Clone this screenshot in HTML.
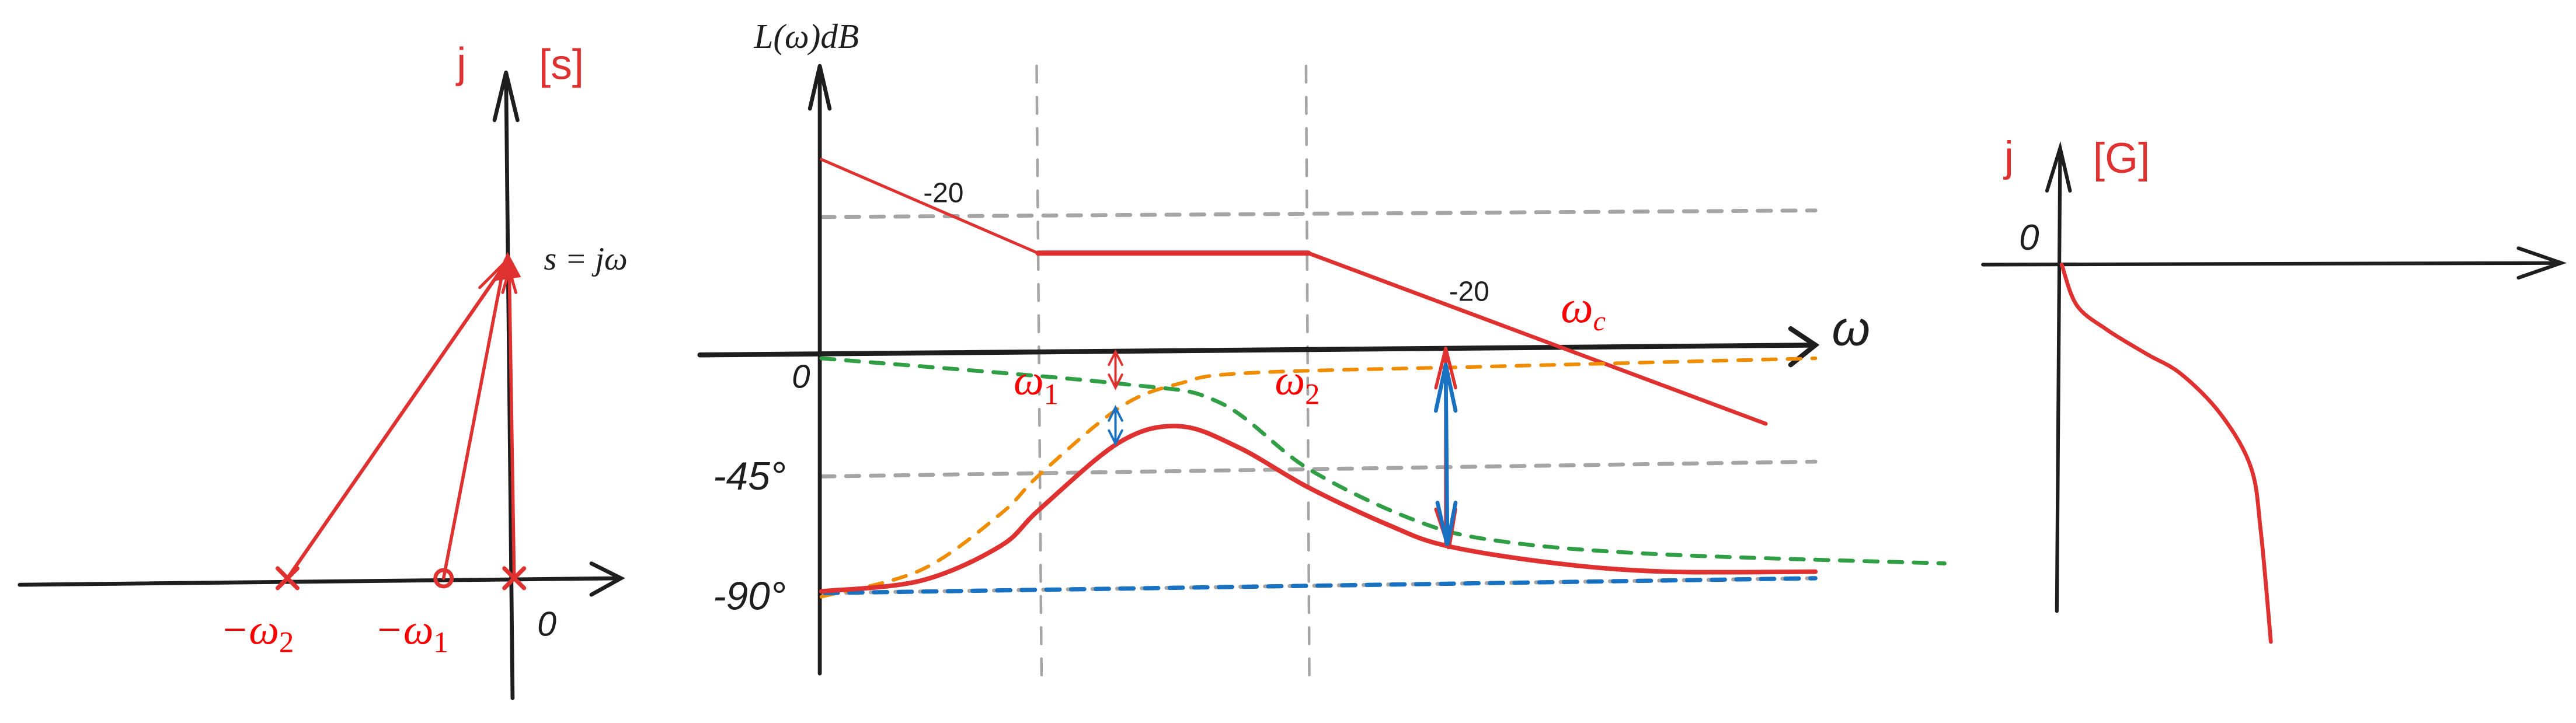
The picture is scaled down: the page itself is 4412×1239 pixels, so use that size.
<!DOCTYPE html>
<html><head><meta charset="utf-8"><style>
html,body{margin:0;padding:0;background:#fff}
svg{display:block}
.hand{font-family:"Liberation Sans",sans-serif}
.math{font-family:"Liberation Serif",serif;font-style:italic}
</style></head><body>
<svg id="fig" width="4412" height="1239" viewBox="0 0 1568 440" xmlns="http://www.w3.org/2000/svg">
<g stroke-linecap="round" fill="none">
 <path d="M12 356 L378 352 M360 343 L378 352 L360 362" stroke="#1e1e1e" stroke-width="2.4"/>
 <path d="M312 425 L308 44 M301 73 L308 44 L315 73" stroke="#1e1e1e" stroke-width="2.4"/>
 <path d="M175 352 L308 160" stroke="#e03131" stroke-width="2.2"/>
 <path d="M270 352 L306 165" stroke="#e03131" stroke-width="2"/>
 <path d="M313 352 L310 165" stroke="#e03131" stroke-width="2"/>
 <path d="M292 175 L309 158 M306 178 L310 164 L314 178" stroke="#e03131" stroke-width="1.8"/>
 <path d="M309 155 L302 170 L316 168 Z" fill="#e03131" stroke="#e03131" stroke-width="1.5"/>
 <path d="M169 346 L181 358 M181 346 L169 358" stroke="#e03131" stroke-width="2.6"/>
 <path d="M307 346 L319 358 M319 346 L307 358" stroke="#e03131" stroke-width="2.6"/>
 <circle cx="270" cy="352" r="5" stroke="#e03131" stroke-width="2.4"/>
</g>
<text class="hand" x="278" y="47" font-size="26" fill="#e03131">j</text>
<text class="hand" x="328" y="48" font-size="26" fill="#e03131">[s]</text>
<text class="math" x="331" y="164" font-size="20" fill="#1e1e1e">s = jω</text>
<text class="math" x="134" y="392" font-size="26" fill="#ff0000">−ω<tspan font-size="18" dy="5" font-style="normal">2</tspan></text>
<text class="math" x="228" y="392" font-size="26" fill="#ff0000">−ω<tspan font-size="18" dy="5" font-style="normal">1</tspan></text>
<text class="hand" x="327" y="387" font-size="21" fill="#1e1e1e" font-style="italic">0</text>

<g id="bode" fill="none" stroke-linecap="round"></g>
<text class="math" x="459" y="29" font-size="21" fill="#1e1e1e">L(ω)dB</text>
<text class="hand" x="1115" y="210" font-size="30" fill="#1e1e1e" font-style="italic">ω</text>
<text class="hand" x="562" y="123" font-size="17" fill="#1e1e1e">-20</text>
<text class="hand" x="882" y="183" font-size="17" fill="#1e1e1e">-20</text>
<text class="math" x="950" y="196" font-size="28" fill="#ff0000">ω<tspan font-size="17" dy="5">c</tspan></text>
<text class="hand" x="482" y="236" font-size="20" fill="#1e1e1e" font-style="italic">0</text>
<text class="math" x="617" y="240" font-size="26" fill="#ff0000">ω<tspan font-size="18" dy="6" font-style="normal">1</tspan></text>
<text class="math" x="776" y="240" font-size="26" fill="#ff0000">ω<tspan font-size="18" dy="6" font-style="normal">2</tspan></text>
<text class="hand" x="434" y="298" font-size="24" fill="#1e1e1e" font-style="italic">-45°</text>
<text class="hand" x="434" y="371" font-size="24" fill="#1e1e1e" font-style="italic">-90°</text>

<g fill="none" stroke-linecap="round">
 <path d="M1207 161 L1559 160 M1533 151 L1559 160 L1533 169" stroke="#1e1e1e" stroke-width="2.2"/>
 <path d="M1252 372 L1254 90 M1246 116 L1254 90 L1260 116" stroke="#1e1e1e" stroke-width="2.2"/>
 <path id="nyq" stroke="#e03131" stroke-width="2.4"/>
</g>
<text class="hand" x="1220" y="104" font-size="26" fill="#e03131">j</text>
<text class="hand" x="1274" y="105" font-size="26" fill="#e03131">[G]</text>
<text class="hand" x="1229" y="152" font-size="22" fill="#1e1e1e" font-style="italic">0</text>
</svg>
<script>
const totalFreqs = [0, 0.1, 0.18, 0.22, 0.3, 0.36, 0.42, 0.49, 0.57, 0.63, 0.74, 0.85, 1.0];
const phaseTotal = [-90, -86, -73, -59, -34, -28, -36, -51, -65, -73, -79.5, -82.6, -82.6];
const leadFreqs = [0, 0.1, 0.18, 0.22, 0.3, 0.36, 0.43, 0.68, 1.0];
const phaseLead = [-92, -82, -61, -46, -21, -12, -8, -5.5, -2.5];
const lagFreqs = [0, 0.3, 0.4, 0.49, 0.595, 0.68, 0.84, 1.13];
const phaseLag = [-2.5, -12, -19, -44, -63, -71, -76, -79.5];
const magBreaks = [0, 0.218, 0.49, 0.95];
const magValues = [40, 20.5, 20.5, -15];

const NS='http://www.w3.org/2000/svg';
const bode=document.getElementById('bode');
const X0=500, X1=1105;
const xs=f=>X0+f*(X1-X0);
const ys=p=>214+(p/-90)*146;
const ym=d=>214-d*(214-154)/20.5;
function line(d,stroke,w,dash,name){
 const e=document.createElementNS(NS,'path');
 e.setAttribute('d',d);e.setAttribute('stroke',stroke);e.setAttribute('stroke-width',w);
 if(dash)e.setAttribute('stroke-dasharray',dash);
 
 
 bode.appendChild(e);
 return e;
}
function smooth(X,Y){
 let d='M'+X[0]+' '+Y[0];
 for(let i=1;i<X.length;i++){
  const x0=X[i-1],y0=Y[i-1],x1=X[i],y1=Y[i];
  const xp=i>1?X[i-2]:x0,yp=i>1?Y[i-2]:y0;
  const xn=i<X.length-1?X[i+1]:x1,yn=i<Y.length-1?Y[i+1]:y1;
  d+=' C'+(x0+(x1-xp)/6)+' '+(y0+(y1-yp)/6)+' '+(x1-(xn-x0)/6)+' '+(y1-(yn-y0)/6)+' '+x1+' '+y1;
 }
 return d;
}
line('M500 132 L1105 128','#a5a5a5',2.4,'8 7','grid-line-20db');
line('M500 290 L1105 281','#a5a5a5',2.4,'8 7','grid-line-minus45');
line('M500 361 L1105 352','#a5a5a5',2.4,'8 7','grid-line-minus90');
line('M631 40 L634 415','#a5a5a5',1.6,'10 9','w1-vertical-line');
line('M795 40 L797 415','#a5a5a5',1.6,'10 9','w2-vertical-line');
line('M499 410 L499 40 M493 66 L499 40 L505 66','#1e1e1e',2.4,null,'bode-y-axis');
line('M426 216 L1105 210 M1090 200 L1105 210 L1090 222','#1e1e1e',3,null,'bode-x-axis');
const mx=magBreaks.map(xs), my=magValues.map(ym);
line('M'+mx[0]+' '+my[0]+' L'+mx[1]+' '+my[1],'#e03131',1.8,null,'magnitude-segment-1');
line('M'+mx[1]+' '+my[1]+' L'+mx[2]+' '+my[2],'#e03131',3.2,null,'magnitude-segment-2');
line('M'+mx[2]+' '+my[2]+' L'+mx[3]+' '+my[3],'#e03131',2.4,null,'magnitude-segment-3');
line(smooth(lagFreqs.map(xs),phaseLag.map(ys)),'#2f9e44',2.4,'8 7','lag-phase-curve');
line(smooth(leadFreqs.map(xs),phaseLead.map(ys)),'#f08c00',2.2,'8 7','lead-phase-curve');
line('M502 361 L1105 352','#1971c2',2.6,'8 7','baseline-phase-line');
line(smooth(totalFreqs.map(xs),phaseTotal.map(ys)),'#e03131',2.8,null,'total-phase-curve');
line('M679 216 L679 234 M675 222 L679 214 L683 222 M675 228 L679 236 L683 228','#e03131',1.4,null,'lag-margin-arrow');
line('M679 250 L679 268 M675 256 L679 248 L683 256 M675 262 L679 270 L683 262','#1971c2',1.4,null,'lead-margin-arrow');
line('M880 212 L880 330 M874 236 L880 212 L886 236 M874 310 L882 334 L886 310','#e03131',2,null,'phase-margin-red-arrow');
line('M880 222 L881 330 M874 250 L880 222 L886 250 M875 306 L881 332 L886 306','#1971c2',2.4,null,'phase-margin-blue-arrow');

const nyRe=[0,0.03,0.09,0.17,0.24,0.32,0.38,0.4,0.42];
const nyIm=[0,-0.1,-0.16,-0.22,-0.27,-0.37,-0.5,-0.66,-0.93];
const nx=v=>1255+v*303, ny=v=>161-v*247;
document.getElementById('nyq').setAttribute('d',smooth(nyRe.map(nx),nyIm.map(ny)));
</script>
</body></html>
